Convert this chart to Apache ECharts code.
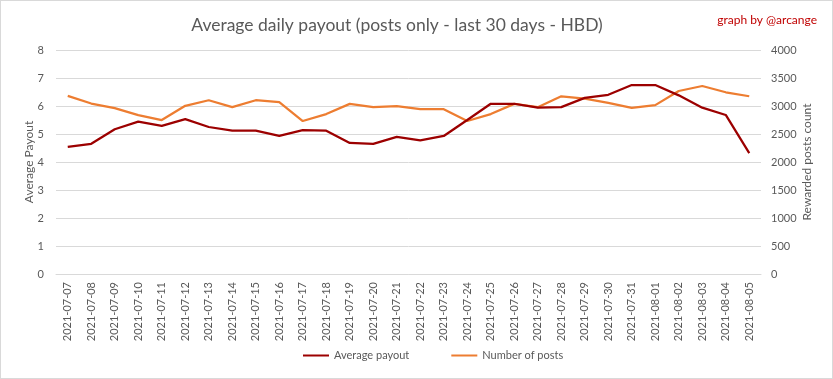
<!DOCTYPE html>
<html><head><meta charset="utf-8">
<script src="https://cdn.jsdelivr.net/npm/echarts@6/dist/echarts.min.js"></script>
<style>html,body{margin:0;padding:0;background:#fff}#c{width:831px;height:377px;border:1px solid #d9d9d9}</style>
</head><body><div id="c"></div>
<script>
const categories = ["2021-07-07","2021-07-08","2021-07-09","2021-07-10","2021-07-11","2021-07-12","2021-07-13","2021-07-14","2021-07-15","2021-07-16","2021-07-17","2021-07-18","2021-07-19","2021-07-20","2021-07-21","2021-07-22","2021-07-23","2021-07-24","2021-07-25","2021-07-26","2021-07-27","2021-07-28","2021-07-29","2021-07-30","2021-07-31","2021-08-01","2021-08-02","2021-08-03","2021-08-04","2021-08-05"];
const averagePayout = [4.54,4.65,5.17,5.44,5.29,5.53,5.25,5.12,5.12,4.93,5.14,5.12,4.68,4.65,4.90,4.77,4.93,5.50,6.08,6.08,5.94,5.96,6.29,6.40,6.75,6.75,6.38,5.94,5.68,4.32];
const numberOfPosts = [3180,3044,2962,2838,2749,3003,3103,2979,3103,3068,2732,2856,3038,2979,2997,2944,2944,2732,2856,3038,2979,3174,3133,3056,2968,3015,3268,3357,3245,3174];
const leftTicks = [0,1,2,3,4,5,6,7,8];
const rightTicks = [0,500,1000,1500,2000,2500,3000,3500,4000];

const FONT = 'Lato, "Open Sans", sans-serif';
const chart = echarts.init(document.getElementById('c'));
chart.setOption({
  animation:false,
  textStyle:{fontFamily:FONT},
  title:[
    {text:'Average daily payout (posts only - last 30 days - HBD)',left:391,top:10,textAlign:'center',
     textStyle:{fontFamily:FONT,fontSize:17.5,fontWeight:'normal',color:'#595959'}},
    {text:'graph by @arcange',right:10,top:8,
     textStyle:{fontFamily:FONT,fontSize:12,fontWeight:'normal',color:'#c00000'}}
  ],
  legend:{bottom:12,left:297,itemWidth:26,itemHeight:2,itemGap:42,icon:'rect',
    textStyle:{fontFamily:FONT,fontSize:11,color:'#595959'},
    data:['Average payout','Number of posts']},
  grid:{left:55,right:71,top:49,bottom:104},
  xAxis:{type:'category',data:categories,boundaryGap:true,
    axisLine:{show:true,lineStyle:{color:'#d9d9d9'}},axisTick:{show:false},
    axisLabel:{rotate:90,color:'#595959',fontSize:11,fontFamily:FONT,interval:0,margin:8}},
  yAxis:[
    {type:'value',min:leftTicks[0],max:leftTicks[leftTicks.length-1],interval:1,
     name:'Average Payout',nameLocation:'middle',nameGap:21,nameMoveOverlap:false,
     nameTextStyle:{color:'#595959',fontSize:12,fontFamily:FONT},
     axisLine:{show:false},axisTick:{show:false},
     axisLabel:{color:'#595959',fontSize:11,fontFamily:FONT,margin:12},
     splitLine:{lineStyle:{color:'#d9d9d9',width:1}}},
    {type:'value',min:rightTicks[0],max:rightTicks[rightTicks.length-1],interval:500,
     name:'Rewarded posts count',nameLocation:'middle',nameGap:40,nameRotate:90,nameMoveOverlap:false,
     nameTextStyle:{color:'#595959',fontSize:12,fontFamily:FONT},
     axisLine:{show:false},axisTick:{show:false},
     axisLabel:{color:'#595959',fontSize:11,fontFamily:FONT,margin:10,formatter:v=>String(v)},
     splitLine:{show:false}}
  ],
  series:[
    {name:'Average payout',type:'line',data:averagePayout,yAxisIndex:0,showSymbol:false,symbol:'none',
     lineStyle:{color:'#9c0000',width:2.25},itemStyle:{color:'#9c0000'},z:3},
    {name:'Number of posts',type:'line',data:numberOfPosts,yAxisIndex:1,showSymbol:false,symbol:'none',
     lineStyle:{color:'#ed7d31',width:2.25},itemStyle:{color:'#ed7d31'},z:2}
  ]
});
</script></body></html>
